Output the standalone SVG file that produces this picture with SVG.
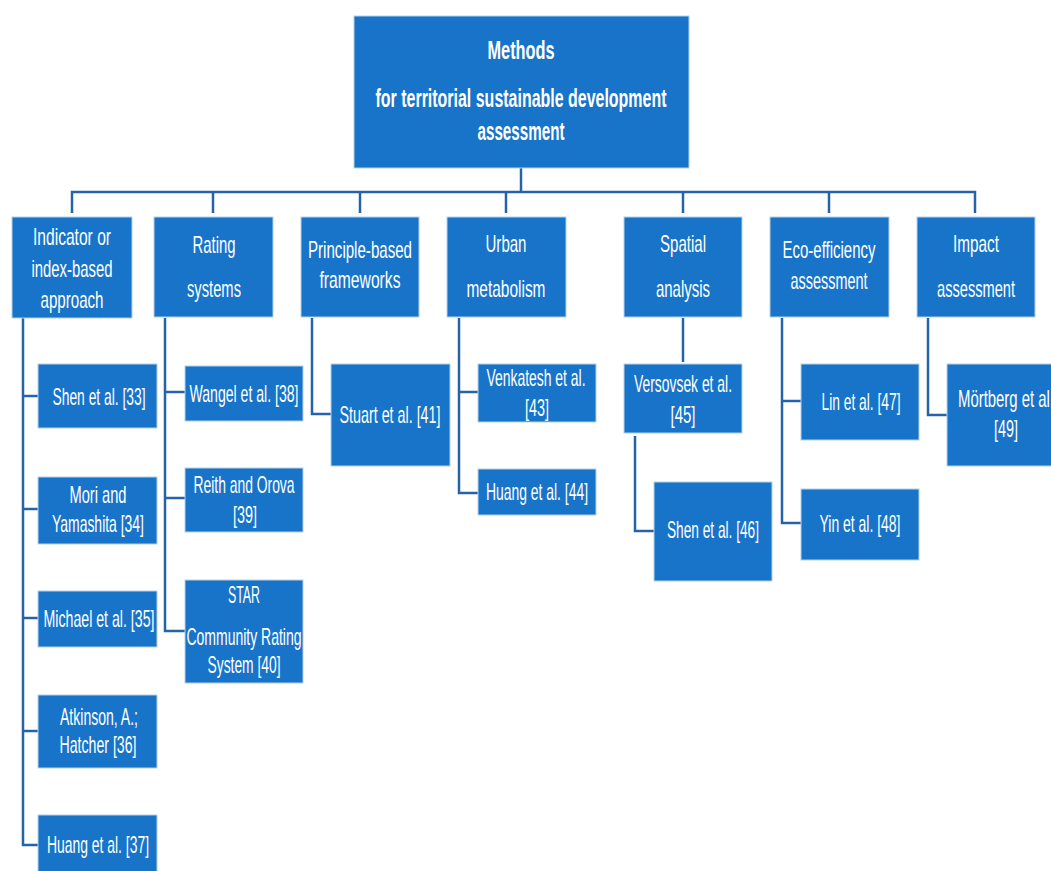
<svg xmlns="http://www.w3.org/2000/svg" width="1051" height="871" viewBox="0 0 1051 871">
<style>
.box{fill:#1874c8;stroke:#b5cfea;stroke-width:1}
.t{font-family:"Liberation Sans",Arial,sans-serif;font-size:24px;fill:#ffffff;text-anchor:middle}
.tb{font-family:"Liberation Sans",Arial,sans-serif;font-size:25px;font-weight:bold;fill:#ffffff;text-anchor:middle}
.c{fill:none;stroke:#2563a8;stroke-width:2.5}
</style>
<rect width="1051" height="871" fill="#ffffff"/>
<g id="connectors">
<path class="c" d="M521,168 V192"/>
<path class="c" d="M72,213 V192 H975 V213" stroke-width="3"/>
<path class="c" d="M213,192 V213"/>
<path class="c" d="M360,192 V213"/>
<path class="c" d="M506,192 V213"/>
<path class="c" d="M683,192 V213"/>
<path class="c" d="M829,192 V213"/>
<path class="c" d="M23,318 V845 H38"/>
<path class="c" d="M23,396 H38"/>
<path class="c" d="M23,509 H38"/>
<path class="c" d="M23,618 H38"/>
<path class="c" d="M23,731 H38"/>
<path class="c" d="M165,318 V631 H185"/>
<path class="c" d="M165,392 H185"/>
<path class="c" d="M165,498 H185"/>
<path class="c" d="M312,318 V414 H331"/>
<path class="c" d="M459,318 V493 H478"/>
<path class="c" d="M459,392 H478"/>
<path class="c" d="M683,318 V362"/>
<path class="c" d="M635,436 V531 H654"/>
<path class="c" d="M782,318 V523 H801"/>
<path class="c" d="M782,401 H801"/>
<path class="c" d="M928,318 V415 H947"/>
</g>
<g id="root">
<rect class="box" x="354" y="16" width="335" height="152"/>
<text class="tb" x="521" y="59" textLength="67" lengthAdjust="spacingAndGlyphs">Methods</text>
<text class="tb" x="521" y="107" textLength="291" lengthAdjust="spacingAndGlyphs">for territorial sustainable development</text>
<text class="tb" x="521" y="140" textLength="87" lengthAdjust="spacingAndGlyphs">assessment</text>
</g>
<g id="indicator">
<rect class="box" x="12" y="217" width="120" height="101"/>
<text class="t" x="72" y="245" textLength="78" lengthAdjust="spacingAndGlyphs">Indicator or</text>
<text class="t" x="72" y="277" textLength="81" lengthAdjust="spacingAndGlyphs">index-based</text>
<text class="t" x="72" y="308" textLength="63" lengthAdjust="spacingAndGlyphs">approach</text>
</g>
<g id="rating">
<rect class="box" x="154" y="217" width="119" height="100"/>
<text class="t" x="214" y="253" textLength="43" lengthAdjust="spacingAndGlyphs">Rating</text>
<text class="t" x="214" y="297" textLength="54" lengthAdjust="spacingAndGlyphs">systems</text>
</g>
<g id="principle">
<rect class="box" x="301" y="217" width="118" height="100"/>
<text class="t" x="360" y="258" textLength="104" lengthAdjust="spacingAndGlyphs">Principle-based</text>
<text class="t" x="360" y="288" textLength="81" lengthAdjust="spacingAndGlyphs">frameworks</text>
</g>
<g id="urban">
<rect class="box" x="447" y="217" width="119" height="100"/>
<text class="t" x="506" y="252" textLength="41" lengthAdjust="spacingAndGlyphs">Urban</text>
<text class="t" x="506" y="297" textLength="79" lengthAdjust="spacingAndGlyphs">metabolism</text>
</g>
<g id="spatial">
<rect class="box" x="624" y="217" width="118" height="100"/>
<text class="t" x="683" y="252" textLength="46" lengthAdjust="spacingAndGlyphs">Spatial</text>
<text class="t" x="683" y="297" textLength="54" lengthAdjust="spacingAndGlyphs">analysis</text>
</g>
<g id="eco">
<rect class="box" x="770" y="217" width="119" height="100"/>
<text class="t" x="829" y="258" textLength="93" lengthAdjust="spacingAndGlyphs">Eco-efficiency</text>
<text class="t" x="829" y="289" textLength="77" lengthAdjust="spacingAndGlyphs">assessment</text>
</g>
<g id="impact">
<rect class="box" x="917" y="217" width="118" height="100"/>
<text class="t" x="976" y="252" textLength="46" lengthAdjust="spacingAndGlyphs">Impact</text>
<text class="t" x="976" y="297" textLength="78" lengthAdjust="spacingAndGlyphs">assessment</text>
</g>
<g id="shen33">
<rect class="box" x="38" y="364" width="119" height="64"/>
<text class="t" x="99" y="405" textLength="93" lengthAdjust="spacingAndGlyphs">Shen et al. [33]</text>
</g>
<g id="mori34">
<rect class="box" x="38" y="477" width="119" height="67"/>
<text class="t" x="98" y="503" textLength="57" lengthAdjust="spacingAndGlyphs">Mori and</text>
<text class="t" x="98" y="532" textLength="92" lengthAdjust="spacingAndGlyphs">Yamashita [34]</text>
</g>
<g id="michael35">
<rect class="box" x="38" y="591" width="119" height="56"/>
<text class="t" x="99" y="627" textLength="111" lengthAdjust="spacingAndGlyphs">Michael et al. [35]</text>
</g>
<g id="atkinson36">
<rect class="box" x="38" y="695" width="119" height="73"/>
<text class="t" x="99" y="725" textLength="78" lengthAdjust="spacingAndGlyphs">Atkinson, A.;</text>
<text class="t" x="98" y="753" textLength="77" lengthAdjust="spacingAndGlyphs">Hatcher [36]</text>
</g>
<g id="huang37">
<rect class="box" x="38" y="815" width="119" height="60"/>
<text class="t" x="98" y="853" textLength="102" lengthAdjust="spacingAndGlyphs">Huang et al. [37]</text>
</g>
<g id="wangel38">
<rect class="box" x="185" y="366" width="118" height="55"/>
<text class="t" x="244" y="402" textLength="109" lengthAdjust="spacingAndGlyphs">Wangel et al. [38]</text>
</g>
<g id="reith39">
<rect class="box" x="185" y="468" width="118" height="64"/>
<text class="t" x="244" y="493" textLength="101" lengthAdjust="spacingAndGlyphs">Reith and Orova</text>
<text class="t" x="245" y="523" textLength="24" lengthAdjust="spacingAndGlyphs">[39]</text>
</g>
<g id="star40">
<rect class="box" x="185" y="580" width="118" height="103"/>
<text class="t" x="244" y="603" textLength="32" lengthAdjust="spacingAndGlyphs">STAR</text>
<text class="t" x="244" y="645" textLength="115" lengthAdjust="spacingAndGlyphs">Community Rating</text>
<text class="t" x="244" y="673" textLength="73" lengthAdjust="spacingAndGlyphs">System [40]</text>
</g>
<g id="stuart41">
<rect class="box" x="331" y="364" width="119" height="102"/>
<text class="t" x="390" y="423" textLength="101" lengthAdjust="spacingAndGlyphs">Stuart et al. [41]</text>
</g>
<g id="venkatesh43">
<rect class="box" x="478" y="364" width="118" height="58"/>
<text class="t" x="536" y="386" textLength="99" lengthAdjust="spacingAndGlyphs">Venkatesh et al.</text>
<text class="t" x="537" y="416" textLength="24" lengthAdjust="spacingAndGlyphs">[43]</text>
</g>
<g id="huang44">
<rect class="box" x="478" y="469" width="118" height="46"/>
<text class="t" x="537" y="500" textLength="102" lengthAdjust="spacingAndGlyphs">Huang et al. [44]</text>
</g>
<g id="versovsek45">
<rect class="box" x="624" y="364" width="118" height="69"/>
<text class="t" x="683" y="392" textLength="98" lengthAdjust="spacingAndGlyphs">Versovsek et al.</text>
<text class="t" x="683" y="423" textLength="25" lengthAdjust="spacingAndGlyphs">[45]</text>
</g>
<g id="shen46">
<rect class="box" x="654" y="482" width="118" height="99"/>
<text class="t" x="713" y="538" textLength="92" lengthAdjust="spacingAndGlyphs">Shen et al. [46]</text>
</g>
<g id="lin47">
<rect class="box" x="801" y="364" width="118" height="76"/>
<text class="t" x="861" y="410" textLength="79" lengthAdjust="spacingAndGlyphs">Lin et al. [47]</text>
</g>
<g id="yin48">
<rect class="box" x="801" y="489" width="118" height="71"/>
<text class="t" x="860" y="532" textLength="81" lengthAdjust="spacingAndGlyphs">Yin et al. [48]</text>
</g>
<g id="mortberg49">
<rect class="box" x="947" y="364" width="118" height="102"/>
<text class="t" x="1006" y="407" textLength="96" lengthAdjust="spacingAndGlyphs">Mörtberg et al.</text>
<text class="t" x="1006" y="437" textLength="24" lengthAdjust="spacingAndGlyphs">[49]</text>
</g>
</svg>
